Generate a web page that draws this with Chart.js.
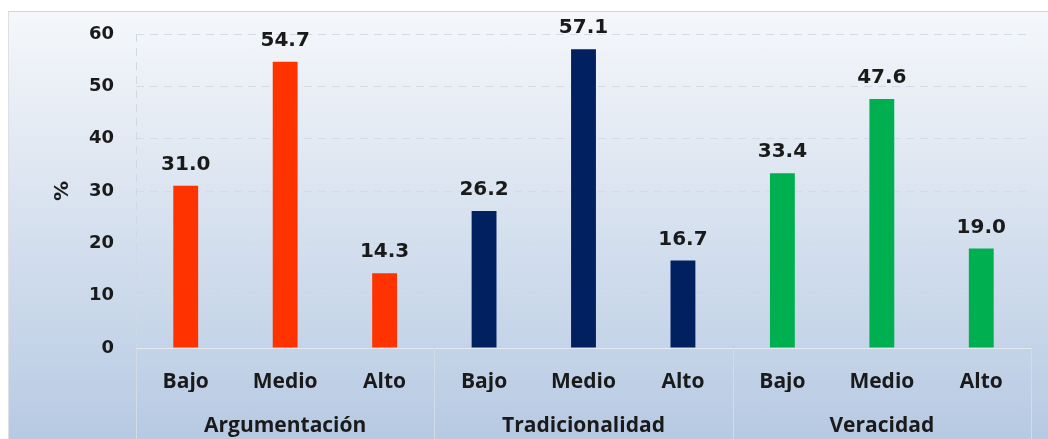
<!DOCTYPE html>
<html>
<head>
<meta charset="utf-8">
<script src="https://cdn.jsdelivr.net/npm/chart.js@4/dist/chart.umd.min.js"></script>
<style>
  html, body { margin: 0; padding: 0; background: #fff; }
  .frame {
    position: absolute; left: 8px; top: 11px; width: 1040px; height: 428px;
    background: linear-gradient(#f5f7fa, #b7cae3);
    border-top: 1px solid #d4d7dc; border-left: 1px solid #dde0e4;
    box-sizing: border-box;
  }
  canvas { position: absolute; left: 0; top: 0; }
</style>
</head>
<body>
<div class="frame"><canvas class="bar-chart" width="1040" height="428"></canvas></div>
<script>
const levels = ["Bajo", "Medio", "Alto", "Bajo", "Medio", "Alto", "Bajo", "Medio", "Alto"];
const groups = ["Argumentación", "Tradicionalidad", "Veracidad"];
const percent = [31.0, 54.7, 14.3, 26.2, 57.1, 16.7, 33.4, 47.6, 19.0];
const groupColors = ["#ff3300", "#002060", "#00b050"];
const yTicks = [0, 10, 20, 30, 40, 50, 60];

const barColors = percent.map((v, i) => groupColors[Math.floor(i / 3)]);

// value labels over the bars
const valueLabels = {
  id: "valueLabels",
  afterDatasetsDraw(chart) {
    const c = chart.ctx;
    const meta = chart.getDatasetMeta(0);
    c.save();
    c.font = "bold 20px 'DejaVu Sans'";
    c.fillStyle = "#1a1a1a";
    c.textAlign = "center";
    c.textBaseline = "alphabetic";
    meta.data.forEach((bar, i) => {
      c.fillText(percent[i].toFixed(1), bar.x, bar.y - 16);
    });
    c.restore();
  },
};

// group separators under the axis
const groupLines = {
  id: "groupLines",
  afterDraw(chart) {
    const x = chart.scales.x;
    const c = chart.ctx;
    const half = (x.getPixelForValue(1) - x.getPixelForValue(0)) / 2;
    c.save();
    c.strokeStyle = "#d3dbe7";
    c.lineWidth = 1;
    for (let g = 0; g <= groups.length; g++) {
      const px = Math.round(x.getPixelForValue(g * 3) - half) + 0.5;
      c.beginPath();
      c.moveTo(px, chart.chartArea.bottom);
      c.lineTo(px, chart.height);
      c.stroke();
    }
    c.restore();
  },
};

const ctx = document.querySelector(".bar-chart").getContext("2d");

new Chart(ctx, {
  type: "bar",
  data: {
    labels: levels,
    datasets: [
      {
        data: percent,
        backgroundColor: barColors,
        barPercentage: 0.25,
        categoryPercentage: 1,
      },
    ],
  },
  options: {
    responsive: false,
    animation: false,
    layout: { padding: { left: 0, top: 22, right: 18, bottom: 0 } },
    plugins: { legend: { display: false }, tooltip: { enabled: false } },
    scales: {
      y: {
        min: 0,
        max: 60,
        afterBuildTicks: (scale) => {
          scale.ticks = yTicks.map((v) => ({ value: v }));
        },
        afterFit: (scale) => {
          scale.width = 127;
          scale.paddingTop = 0;
          scale.paddingBottom = 0;
        },
        ticks: {
          padding: 22,
          color: "#1a1a1a",
          font: { family: "'DejaVu Sans'", size: 18, weight: "bold" },
        },
        grid: { color: "#d3dbe6", drawTicks: false },
        border: { display: false, dash: [8, 6] },
        title: {
          display: true,
          text: "%",
          color: "#1a1a1a",
          padding: { top: 42, bottom: 0 },
          font: { family: "'DejaVu Sans'", size: 20, weight: "bold" },
        },
      },
      x: {
        offset: true,
        afterFit: (scale) => {
          scale.height = 44;
        },
        ticks: {
          padding: 21,
          maxRotation: 0,
          color: "#1a1a1a",
          font: { family: "'Open Sans'", size: 21, weight: "bold" },
        },
        grid: {
          offset: true,
          drawTicks: false,
          color: (c) => (c.index === 0 ? "#d0d8e4" : "rgba(0,0,0,0)"),
        },
        border: { display: true, color: "#e4e9f1", dash: [8, 6] },
      },
      x2: {
        type: "category",
        position: "bottom",
        labels: groups,
        offset: true,
        afterFit: (scale) => {
          scale.height = 48;
        },
        ticks: {
          padding: 21,
          maxRotation: 0,
          color: "#1a1a1a",
          font: { family: "'Open Sans'", size: 21, weight: "bold" },
        },
        grid: { display: false, drawTicks: false },
        border: { display: false },
      },
    },
  },
  plugins: [valueLabels, groupLines],
});
</script>
</body>
</html>
